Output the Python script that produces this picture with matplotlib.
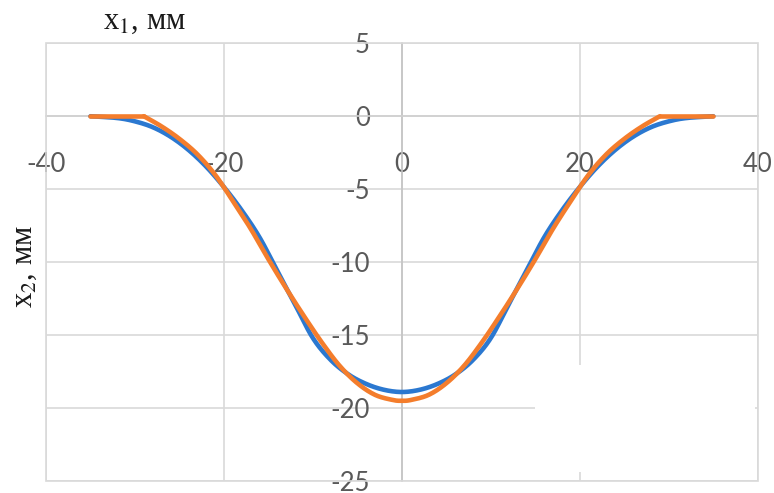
import matplotlib
matplotlib.use("Agg")
import matplotlib.pyplot as plt
import numpy as np
from matplotlib.patches import Rectangle

# ---- data ----
blue_x = [-35, -32, -30, -28, -26, -24, -22, -20, -18, -16, -14, -12, -10, -8, -6, -4, -2, 0,
          2, 4, 6, 8, 10, 12, 14, 16, 18, 20, 22, 24, 26, 28, 30, 32, 35]
blue_y = [0, -0.12, -0.35, -0.75, -1.4, -2.3, -3.45, -4.85, -6.45, -8.3, -10.6, -12.9, -15.2, -16.7, -17.7, -18.35, -18.75, -18.9,
          -18.75, -18.35, -17.7, -16.7, -15.2, -12.9, -10.6, -8.3, -6.45, -4.85, -3.45, -2.3, -1.4, -0.75, -0.35, -0.12, 0]

orange_x = [-35, -29, -27, -25, -23, -21, -19, -17, -15, -13, -11, -9, -7, -5, -3, -1, 0,
            1, 3, 5, 7, 9, 11, 13, 15, 17, 19, 21, 23, 25, 27, 29, 35]
orange_y = [0, 0, -0.7, -1.55, -2.6, -4.0, -5.8, -7.7, -9.8, -11.8, -13.7, -15.5, -17.1, -18.3, -19.1, -19.45, -19.5,
            -19.45, -19.1, -18.3, -17.1, -15.5, -13.7, -11.8, -9.8, -7.7, -5.8, -4.0, -2.6, -1.55, -0.7, 0, 0]

x_ticks = [-40, -20, 0, 20, 40]
x_tick_labels = ["-40", "-20", "0", "20", "40"]
y_ticks = [5, 0, -5, -10, -15, -20, -25]
y_tick_labels = ["5", "0", "-5", "-10", "-15", "-20", "-25"]

BLUE = "#2b78d0"
ORANGE = "#f47d2c"


def catmull_rom(xs, ys, n=24):
    pts = np.column_stack([xs, ys]).astype(float)
    P = np.vstack([2 * pts[0] - pts[1], pts, 2 * pts[-1] - pts[-2]])
    out = []
    t = np.linspace(0, 1, n, endpoint=False)[:, None]
    for i in range(1, len(P) - 2):
        p0, p1, p2, p3 = P[i - 1], P[i], P[i + 1], P[i + 2]
        seg = 0.5 * ((2 * p1) + (-p0 + p2) * t + (2 * p0 - 5 * p1 + 4 * p2 - p3) * t ** 2
                     + (-p0 + 3 * p1 - 3 * p2 + p3) * t ** 3)
        out.append(seg)
    out.append(P[-2][None, :])
    return np.vstack(out)


def split_flat(xs, ys):
    pieces = []
    start = 0
    for i in range(1, len(xs) - 1):
        flat_left = ys[i - 1] == ys[i]
        flat_right = ys[i] == ys[i + 1]
        if flat_left != flat_right:
            pieces.append((xs[start:i + 1], ys[start:i + 1]))
            start = i
    pieces.append((xs[start:], ys[start:]))
    return pieces


plt.rcParams["font.family"] = ["Lato", "DejaVu Sans"]
plt.rcParams["mathtext.fontset"] = "stix"

W, H = 774, 493
fig = plt.figure(figsize=(W / 100, H / 100), dpi=100)
left, right, top, bottom = 46, 757.7, 43.3, 481
ax = fig.add_axes([left / W, 1 - bottom / H, (right - left) / W, (bottom - top) / H])

ax.set_xlim(-40, 40)
ax.set_ylim(-25, 5)

ax.set_xticks(x_ticks)
ax.set_xticklabels(x_tick_labels)
ax.set_yticks(y_ticks)
ax.set_yticklabels(y_tick_labels)
ax.tick_params(axis="x", length=0, pad=26, labelsize=18.5, labelcolor="#595959")
ax.tick_params(axis="y", length=0, pad=23, labelsize=18.5, labelcolor="#595959")

ax.grid(True, color="#d9d9d9", linewidth=1.2, zorder=0)
ax.set_axisbelow(True)

for s in ["top", "right"]:
    ax.spines[s].set_visible(False)
ax.spines["left"].set_position(("data", 0))
ax.spines["bottom"].set_position(("data", 0))
ax.spines["left"].set_color("#c4c4c4")
ax.spines["bottom"].set_color("#d0d0d0")
ax.spines["left"].set_linewidth(1.2)
ax.spines["bottom"].set_linewidth(1.2)
ax.spines["left"].set_zorder(1)
ax.spines["bottom"].set_zorder(1)

# blank patch present in the reference (lower right) and plot frame
ax.add_patch(Rectangle((0.687, 0.0206), 0.309, 0.245, transform=ax.transAxes,
                       facecolor="white", edgecolor="none", zorder=1.5))
ax.add_patch(Rectangle((0, 0), 1, 1, transform=ax.transAxes, facecolor="none",
                       edgecolor="#d9d9d9", linewidth=1.2, zorder=1.6, clip_on=False))

c = catmull_rom(blue_x, blue_y)
ax.plot(c[:, 0], c[:, 1], color=BLUE, linewidth=3.3, solid_capstyle="round", zorder=3)
for px, py in split_flat(orange_x, orange_y):
    c = catmull_rom(px, py)
    ax.plot(c[:, 0], c[:, 1], color=ORANGE, linewidth=3.3, solid_capstyle="round",
            solid_joinstyle="round", zorder=4)

fig.text(144 / W, 1 - 22 / H, "x$_1$, мм", family=["Liberation Serif", "DejaVu Serif"],
         fontsize=22, ha="center", va="center", color="#1a1a1a")
fig.text(25 / W, 1 - 267 / H, "x$_2$, мм", family=["Liberation Serif", "DejaVu Serif"],
         fontsize=22, ha="center", va="center", rotation=90, color="#1a1a1a")

fig.savefig("out.png", dpi=100)
